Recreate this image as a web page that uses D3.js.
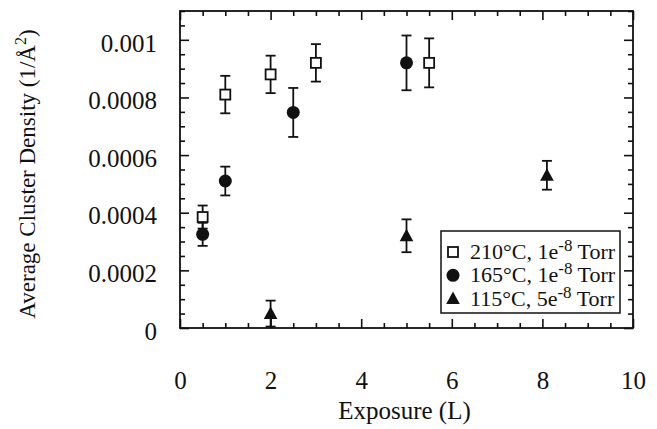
<!DOCTYPE html>
<html>
<head>
<meta charset="utf-8">
<script src="https://cdn.jsdelivr.net/npm/d3@7"></script>
<style>
  body { margin: 0; background: #fff; }
  svg text { font-family: "Liberation Serif", serif; fill: #111; }
</style>
</head>
<body>
<div id="chart"></div>
<script>
// exposure (L), density (1/A^2) and error half-widths per series
var exp210  = [0.5, 1.0, 2.0, 3.0, 5.5];
var dens210 = [0.000385, 0.00081, 0.00088, 0.00092, 0.00092];
var err210  = [0.00004, 0.000065, 0.000065, 0.000065, 0.000085];

var exp165  = [0.5, 1.0, 2.5, 5.0];
var dens165 = [0.000325, 0.00051, 0.000748, 0.00092];
var err165  = [0.00004, 0.00005, 0.000085, 0.000095];

var exp115  = [2.0, 5.0, 8.1];
var dens115 = [0.00005, 0.00032, 0.00053];
var err115  = [0.000045, 0.000057, 0.00005];

var xTickLabels = [0, 2, 4, 6, 8, 10];
var yTickLabels = [0, 0.0002, 0.0004, 0.0006, 0.0008, 0.001];
var legendLabels = [
  { temp: '210°C, 1e', exp: '-8', tail: ' Torr', shape: 'square' },
  { temp: '165°C, 1e', exp: '-8', tail: ' Torr', shape: 'circle' },
  { temp: '115°C, 5e', exp: '-8', tail: ' Torr', shape: 'triangle' }
];

(function () {
  'use strict';

  var width = 657, height = 429;
  var left = 180, right = 633, top = 11, bottom = 328;
  var serif = 'Liberation Serif';

  var svg = d3.select('#chart').append('svg')
              .attr('width', width)
              .attr('height', height)
              .attr('font-family', serif);

  var x = d3.scaleLinear().domain([0, 10]).range([left, right]);
  var y = d3.scaleLinear().domain([0, 0.0011]).range([bottom, top]);

  var xMinor = d3.range(0, 10.001, 0.5).filter(function (d) { return d % 2 !== 0; });
  var yMinor = d3.range(0, 0.00111, 0.00005).filter(function (d) {
    return Math.abs(Math.round(d / 0.0002) * 0.0002 - d) > 1e-9;
  });

  function tickAxis (axisFn, scale, values, size, tx, ty)	{
    var g = svg.append('g')
               .attr('transform', 'translate(' + tx + ',' + ty + ')')
               .call(axisFn(scale).tickValues(values).tickSize(size).tickFormat(''));
    g.select('.domain').remove();
    g.selectAll('line').attr('stroke', '#111').attr('stroke-width', 1.6);
    return g;
  };

  // inward ticks on all four sides
  tickAxis(d3.axisBottom, x, xTickLabels, -9, 0, bottom);
  tickAxis(d3.axisBottom, x, xMinor, -5, 0, bottom);
  tickAxis(d3.axisTop, x, xTickLabels, -9, 0, top);
  tickAxis(d3.axisTop, x, xMinor, -5, 0, top);
  tickAxis(d3.axisLeft, y, yTickLabels, -9, left, 0);
  tickAxis(d3.axisLeft, y, yMinor, -5, left, 0);
  tickAxis(d3.axisRight, y, yTickLabels, -9, right, 0);
  tickAxis(d3.axisRight, y, yMinor, -5, right, 0);

  // tick labels
  var xl = svg.append('g')
              .attr('transform', 'translate(0,' + bottom + ')')
              .call(d3.axisBottom(x).tickValues(xTickLabels).tickSize(0).tickPadding(43)
                      .tickFormat(d3.format('d')));
  xl.select('.domain').remove();
  xl.attr('font-family', serif).attr('font-size', 25);
  xl.selectAll('text').attr('font-family', serif);

  var yl = svg.append('g')
              .attr('transform', 'translate(' + left + ',0)')
              .call(d3.axisLeft(y).tickValues(yTickLabels).tickSize(0).tickPadding(23)
                      .tickFormat(function (d) { return d === 0 ? '0' : String(+d.toFixed(4)); }));
  yl.select('.domain').remove();
  yl.attr('font-family', serif).attr('font-size', 25);
  yl.selectAll('text').attr('font-family', serif).attr('dy', '0.45em');

  // frame
  svg.append('rect')
     .attr('x', left).attr('y', top)
     .attr('width', right - left).attr('height', bottom - top)
     .attr('fill', 'none').attr('stroke', '#111').attr('stroke-width', 1.8);

  // titles
  svg.append('text')
     .attr('x', (left + right) / 2 - 2).attr('y', 419)
     .attr('text-anchor', 'middle')
     .style('font-size', '25px')
     .text('Exposure (L)');

  var yt = svg.append('text')
              .attr('transform', 'translate(35,174) rotate(-90)')
              .attr('text-anchor', 'middle')
              .style('font-size', '23px');
  yt.append('tspan').text('Average Cluster Density (1/Å');
  yt.append('tspan').attr('dy', -9).style('font-size', '16px').text('2');
  yt.append('tspan').attr('dy', 9).text(')');

  function toPoints (xs, ys, es)	{
    return xs.map(function (d, i) { return { x: d, y: ys[i], e: es[i] }; });
  };

  function errorBars (data)	{
    var g = svg.append('g').attr('stroke', '#111').attr('stroke-width', 1.8);
    data.forEach(function (d)	{
      var cx = x(d.x), y0 = y(Math.max(0, d.y - d.e)), y1 = y(d.y + d.e);
      g.append('line').attr('x1', cx).attr('x2', cx).attr('y1', y0).attr('y2', y1);
      g.append('line').attr('x1', cx - 5).attr('x2', cx + 5).attr('y1', y0).attr('y2', y0);
      g.append('line').attr('x1', cx - 5).attr('x2', cx + 5).attr('y1', y1).attr('y2', y1);
    });
  };

  function marker (g, shape, cx, cy)	{
    if (shape === 'square')	{
      g.append('rect').attr('x', cx - 5).attr('y', cy - 5).attr('width', 10).attr('height', 10)
       .attr('fill', '#fff').attr('stroke', '#111').attr('stroke-width', 1.8);
    } else if (shape === 'circle')	{
      g.append('circle').attr('cx', cx).attr('cy', cy).attr('r', 6.5).attr('fill', '#111');
    } else {
      g.append('path')
       .attr('d', 'M' + cx + ',' + (cy - 7) + 'L' + (cx + 6.8) + ',' + (cy + 5.5) + 'L' + (cx - 6.8) + ',' + (cy + 5.5) + 'Z')
       .attr('fill', '#111');
    }
  };

  var series = [
    { data: toPoints(exp210, dens210, err210), shape: 'square' },
    { data: toPoints(exp165, dens165, err165), shape: 'circle' },
    { data: toPoints(exp115, dens115, err115), shape: 'triangle' }
  ];

  series.forEach(function (s) { errorBars(s.data); });
  series.forEach(function (s)	{
    var g = svg.append('g');
    s.data.forEach(function (d) { marker(g, s.shape, x(d.x), y(d.y)); });
  });

  // legend
  var lg = svg.append('g');
  lg.append('rect')
    .attr('x', 441).attr('y', 231).attr('width', 179).attr('height', 82)
    .attr('fill', '#fff').attr('stroke', '#111').attr('stroke-width', 1.5);

  legendLabels.forEach(function (l, i)	{
    var cy = 252 + i * 23.3;
    marker(lg, l.shape, 453, cy);
    var t = lg.append('text')
              .attr('x', 470).attr('y', cy + 7)
              .style('font-size', '22px');
    t.append('tspan').text(l.temp);
    t.append('tspan').attr('dy', -8).style('font-size', '17px').text(l.exp);
    t.append('tspan').attr('dy', 8).text(l.tail);
  });
})();
</script>
</body>
</html>
